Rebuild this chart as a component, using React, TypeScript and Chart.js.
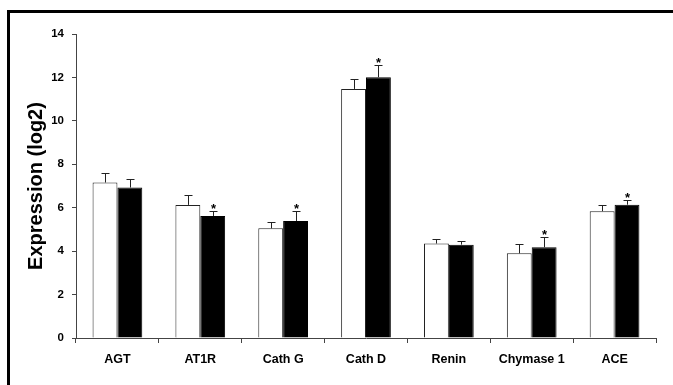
import React, { useEffect, useRef } from "react";
import { Chart, registerables } from "chart.js";

Chart.register(...registerables);

const categories = ["AGT", "AT1R", "Cath G", "Cath D", "Renin", "Chymase 1", "ACE"];
const controlValues = [7.16, 6.13, 5.05, 11.47, 4.35, 3.9, 5.84];
const controlErrors = [0.45, 0.47, 0.31, 0.45, 0.2, 0.42, 0.28];
const treatedValues = [6.93, 5.62, 5.39, 12.01, 4.3, 4.18, 6.14];
const treatedErrors = [0.38, 0.22, 0.48, 0.56, 0.18, 0.49, 0.23];
const significant = [false, true, true, true, false, true, true];
const yTicks = [0, 2, 4, 6, 8, 10, 12, 14];

const FONT = "'Liberation Sans', Arial, sans-serif";

const errorBarPlugin = {
  id: "errorBars",
  afterDatasetsDraw(chart: any) {
    const ctx = chart.ctx;
    const yScale = chart.scales.y;
    const errs = [controlErrors, treatedErrors];
    ctx.save();
    ctx.strokeStyle = "#222";
    ctx.lineWidth = 1;
    chart.data.datasets.forEach((ds: any, di: number) => {
      const meta = chart.getDatasetMeta(di);
      meta.data.forEach((bar: any, i: number) => {
        const v = ds.data[i];
        const topY = Math.round(yScale.getPixelForValue(v + errs[di][i])) + 0.5;
        const x = Math.round(bar.x) + 0.5;
        const by = bar.y;
        ctx.beginPath();
        ctx.moveTo(x, by);
        ctx.lineTo(x, topY);
        ctx.moveTo(x - 4, topY);
        ctx.lineTo(x + 4, topY);
        ctx.stroke();
        if (di === 1 && significant[i]) {
          ctx.fillStyle = "#000";
          ctx.font = `bold 13px ${FONT}`;
          ctx.textAlign = "center";
          ctx.textBaseline = "alphabetic";
          ctx.fillText("*", x, topY + 1);
        }
      });
    });
    ctx.restore();
  },
};

export default function App() {
  const ref = useRef<HTMLCanvasElement>(null);
  useEffect(() => {
    if (!ref.current) return;
    const chart = new Chart(ref.current, {
      type: "bar",
      data: {
        labels: categories,
        datasets: [
          {
            label: "Control",
            data: controlValues,
            backgroundColor: "#ffffff",
            borderColor: "#222",
            borderWidth: 1,
            categoryPercentage: 0.6,
            barPercentage: 1.0,
          },
          {
            label: "Treated",
            data: treatedValues,
            backgroundColor: "#000000",
            borderColor: "#000",
            borderWidth: 1,
            categoryPercentage: 0.6,
            barPercentage: 1.0,
          },
        ],
      },
      options: {
        responsive: false,
        animation: false,
        layout: { padding: { top: 34, right: 17, left: 0, bottom: 0 } },
        plugins: {
          legend: { display: false },
          tooltip: { enabled: false },
        },
        scales: {
          x: {
            grid: {
              offset: true,
              drawOnChartArea: false,
              tickLength: 5,
              color: "#444",
            },
            border: { color: "#444", width: 1 },
            ticks: {
              color: "#000",
              font: { family: FONT, size: 12.5, weight: "bold" },
              padding: 9,
              maxRotation: 0,
            },
            afterFit(scale: any) {
              scale.height = 47;
            },
          },
          y: {
            min: 0,
            max: 14,
            afterBuildTicks(scale: any) {
              scale.ticks = yTicks.map((v) => ({ value: v }));
            },
            grid: { drawOnChartArea: false, tickLength: 4, color: "#444" },
            border: { color: "#444", width: 1 },
            ticks: {
              color: "#000",
              font: { family: FONT, size: 11.5, weight: "bold" },
              padding: 8,
            },
            title: {
              display: true,
              text: "Expression (log2)",
              color: "#000",
              font: { family: FONT, size: 20, weight: "bold" },
              padding: { top: 24, bottom: 0 },
            },
            afterFit(scale: any) {
              scale.width = 76;
            },
          },
        },
      },
      plugins: [errorBarPlugin],
    });
    return () => chart.destroy();
  }, []);

  return (
    <div style={{ position: "fixed", left: 0, top: 0, width: 673, height: 385, background: "#fff", overflow: "hidden" }}>
      <div
        style={{
          position: "absolute",
          left: 7,
          top: 10,
          width: 700,
          height: 420,
          borderTop: "3px solid #000",
          borderLeft: "3px solid #000",
        }}
      />
      <canvas ref={ref} width={673} height={385} style={{ position: "absolute", left: 0, top: 0 }} />
    </div>
  );
}
